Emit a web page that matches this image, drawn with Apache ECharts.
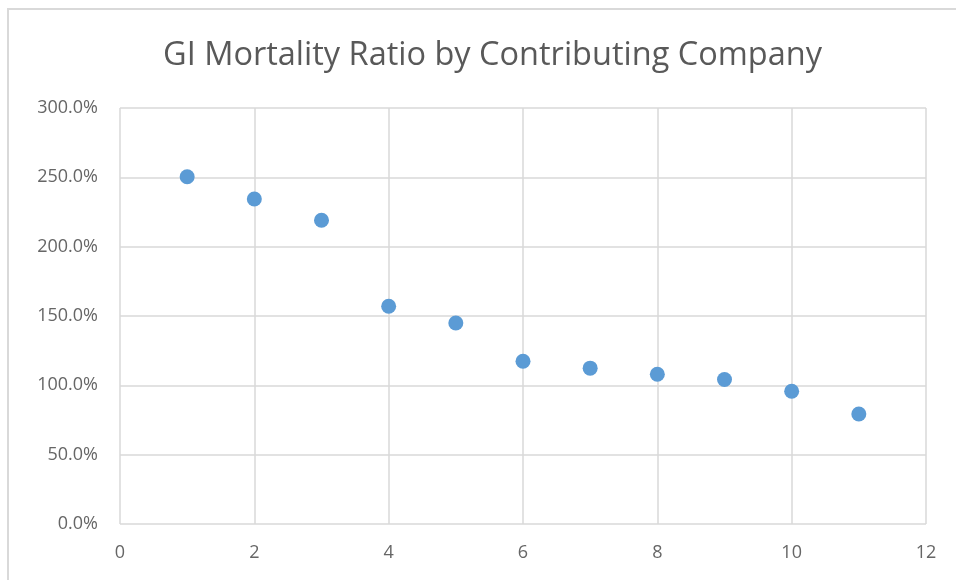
<!DOCTYPE html>
<html>
<head>
<meta charset="utf-8">
<script src="https://cdn.jsdelivr.net/npm/echarts@6/dist/echarts.min.js"></script>
<style>
  html, body { margin: 0; padding: 0; background: #fff; }
  #main { width: 956px; height: 580px; }
</style>
</head>
<body>
<div id="main"></div>
<script>
// company number and its GI mortality ratio (%)
var companies = [1, 2, 3, 4, 5, 6, 7, 8, 9, 10, 11];
var ratios = [250.4, 234.4, 219.0, 157.0, 145.0, 117.4, 112.4, 108.0, 104.2, 95.7, 79.3];

var points = [];
for (var i = 0; i < companies.length; i++) {
    points.push([companies[i], ratios[i]]);
}

var chart = echarts.init(document.getElementById('main'));
var labelFont = { color: '#666666', fontSize: 18, fontFamily: 'Open Sans' };

var option = {
    animation: false,
    title: {
        text: 'GI Mortality Ratio by Contributing Company',
        left: 158,
        top: 34,
        textStyle: { color: '#595959', fontSize: 32.5, fontWeight: 'normal', fontFamily: 'Open Sans' }
    },
    // chart-area border (the picture is cropped at right and bottom)
    graphic: [{
        type: 'rect',
        shape: { x: 8, y: 9, width: 1000, height: 700 },
        style: { fill: 'none', stroke: '#d9d9d9', lineWidth: 2 },
        silent: true
    }],
    grid: { left: 120, right: 30, top: 108, bottom: 56 },
    xAxis: {
        type: 'value',
        min: 0, max: 12, interval: 2,
        axisLine: { show: false },
        axisTick: { show: false },
        axisLabel: Object.assign({ margin: 20 }, labelFont),
        splitLine: { show: true, lineStyle: { color: '#d9d9d9', width: 1.5 } }
    },
    yAxis: {
        type: 'value',
        min: 0, max: 300, interval: 50,
        axisLine: { show: false },
        axisTick: { show: false },
        axisLabel: Object.assign({ margin: 22, formatter: function (v) { return v.toFixed(1) + '%'; } }, labelFont),
        splitLine: { show: true, lineStyle: { color: '#d9d9d9', width: 1.5 } }
    },
    series: [{
        type: 'scatter',
        data: points,
        symbolSize: 15,
        itemStyle: { color: '#5b9bd5', opacity: 1 }
    }]
};
chart.setOption(option);
</script>
</body>
</html>
